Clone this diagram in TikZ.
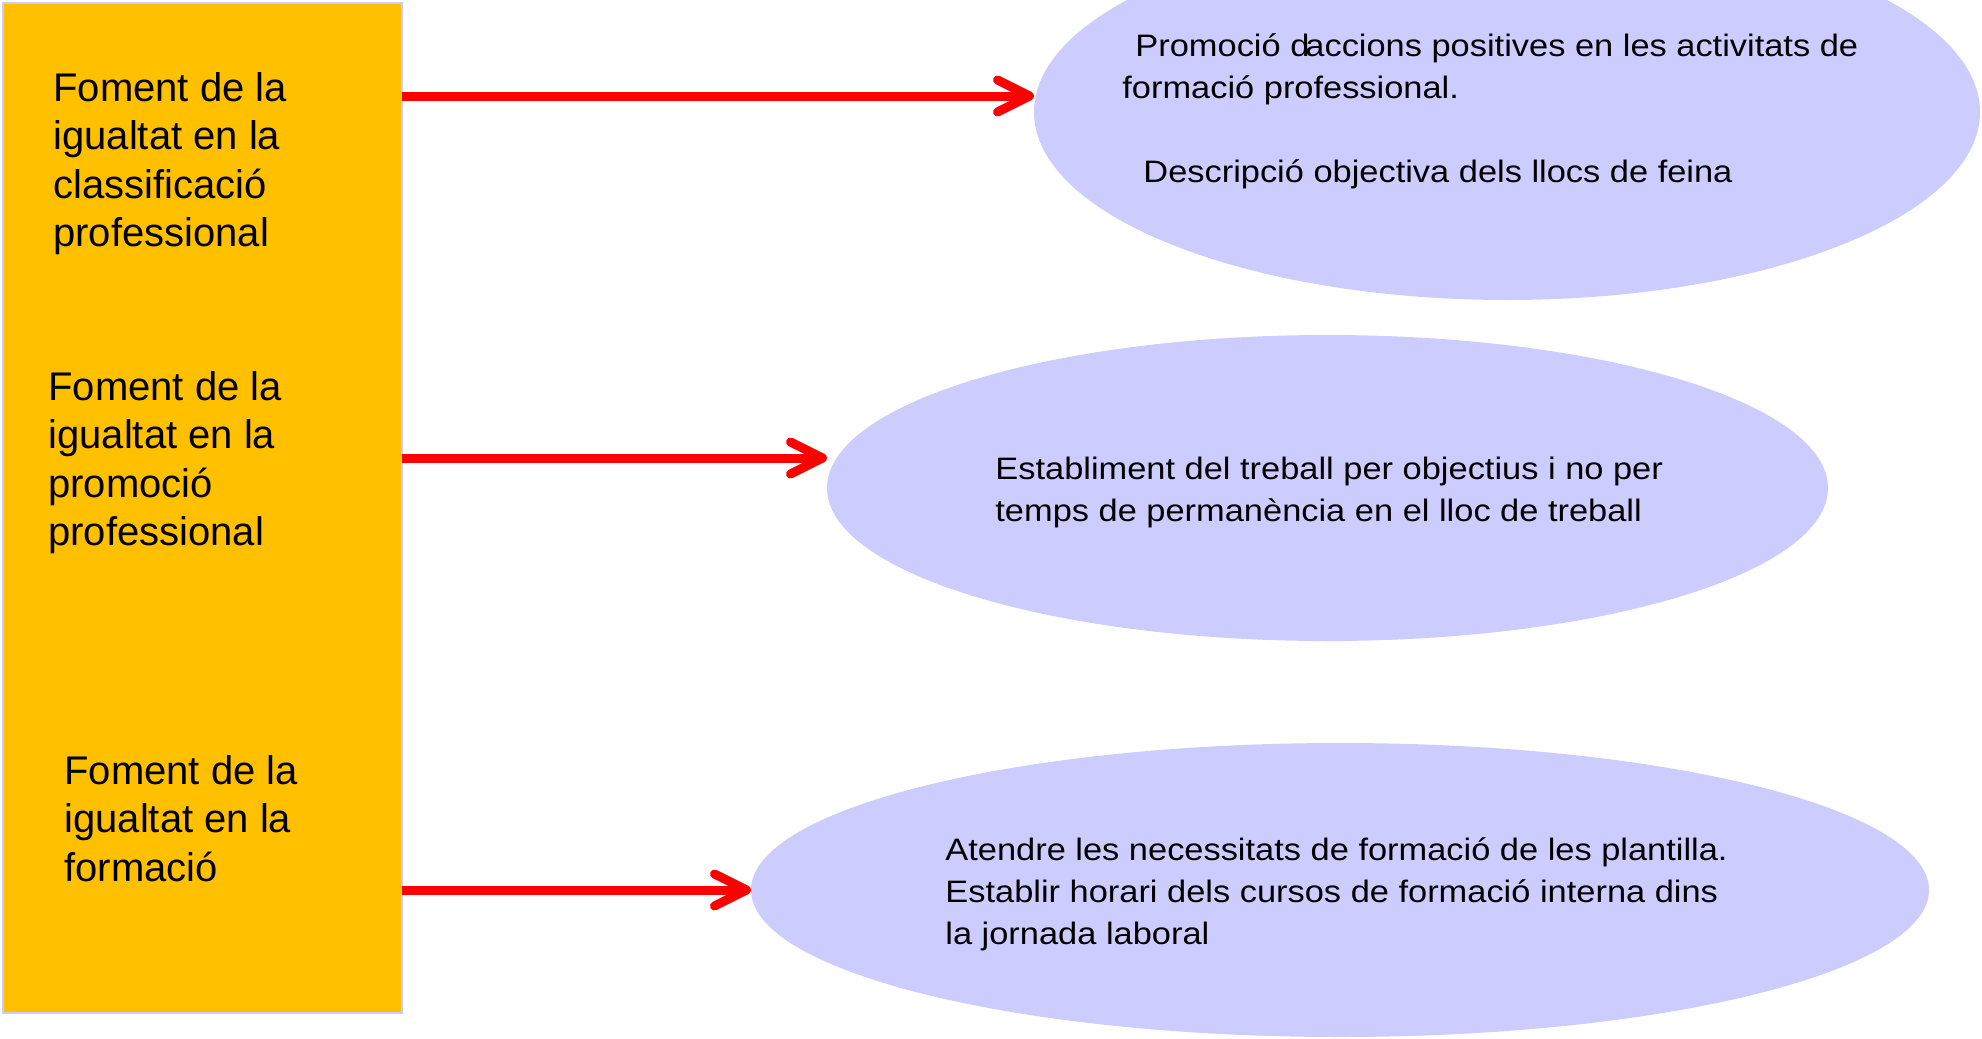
\documentclass[tikz,border=0pt]{standalone}
\usepackage{fontspec}
\setmainfont{Liberation Sans}
\newfontfamily\ampla[FakeStretch=1.11]{Liberation Sans}
\usetikzlibrary{arrows.meta,shapes.geometric}
\definecolor{lila}{HTML}{CCCCFF}
\definecolor{taronja}{HTML}{FFC000}

\begin{document}
\begin{tikzpicture}[x=0.5pt,y=-0.5pt,
    panell/.style={draw=lila,line width=1pt,fill=taronja,inner sep=0pt,outer sep=0pt},
    oval/.style={ellipse,fill=lila,inner sep=0pt,outer sep=0pt},
    titol/.style={anchor=base west,align=left,inner sep=0pt,font=\fontsize{20pt}{24.25pt}\selectfont},
    mesura/.style={anchor=base west,align=left,inner sep=0pt,font=\ampla\fontsize{15.5pt}{21pt}\selectfont},
    fletxa/.style={red,line width=4.5pt,-{Straight Barb[length=16pt,width=16pt,round]}}]
    % 画布范围
    \clip(0,0)rectangle(1982,1039);
    % 左侧色块与标题
    \node[panell,minimum width=199.5pt,minimum height=505pt](panell)at(202.5,508){};
    \node[titol](t1)at(53,246.5){Foment de la\\igualtat en la\\classificació\\professional};
    \node[titol](t2)at(48,545.5){Foment de la\\igualtat en la\\promoció\\professional};
    \node[titol](t3)at(64,881){Foment de la\\igualtat en la\\formació};
    % 右侧椭圆
    \node[oval,minimum width=473pt,minimum height=188pt](o1)at(1507,112){};
    \node[oval,minimum width=500.5pt,minimum height=153pt](o2)at(1327.5,488){};
    \node[oval,minimum width=589pt,minimum height=147pt](o3)at(1340,890){};
    % 椭圆中的文字
    \node[mesura](m1)at(1122,182){\hspace*{6.5pt}Promoció d\kern-2pt accions positives en les activitats de\\formació professional.\\[21pt]\hspace*{10.5pt}Descripció objectiva dels llocs de feina};
    \node[mesura](m2)at(995,521){Establiment del treball per objectius i no per\\temps de permanència en el lloc de treball};
    \node[mesura](m3)at(945,944){Atendre les necessitats de formació de les plantilla.\\Establir horari dels cursos de formació interna dins\\la jornada laboral};
    % 箭头
    \coordinate(a1)at(402,96);
    \coordinate(a2)at(402,458);
    \coordinate(a3)at(402,890);
    \draw[fletxa](a1)--(a1 -| o1.west);
    \draw[fletxa](a2)--(a2 -| o2.west);
    \draw[fletxa](a3)--(a3 -| o3.west);
\end{tikzpicture}
\end{document}
